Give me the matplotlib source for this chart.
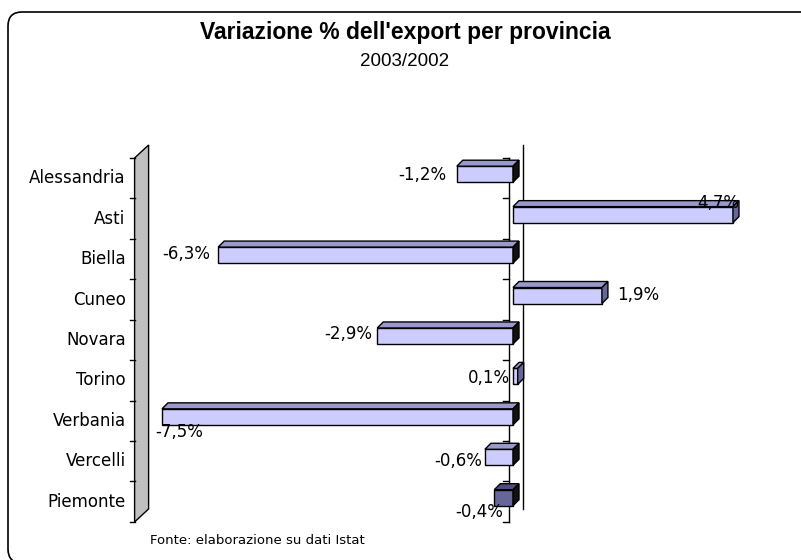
import matplotlib.pyplot as plt
from matplotlib.patches import Polygon, FancyBboxPatch
from matplotlib.transforms import IdentityTransform

provinces = ['Alessandria', 'Asti', 'Biella', 'Cuneo', 'Novara',
             'Torino', 'Verbania', 'Vercelli', 'Piemonte']
variation = [-1.2, 4.7, -6.3, 1.9, -2.9, 0.1, -7.5, -0.6, -0.4]
value_labels = ['-1,2%', '4,7%', '-6,3%', '1,9%', '-2,9%',
                '0,1%', '-7,5%', '-0,6%', '-0,4%']
axis_min = -8

# where each value label sits relative to the bar end (ha, dx px, dy px down)
label_place = [('right', -10, 1), ('center', -15, -12), ('right', -8, -1),
               ('left', 15, -1), ('right', -5, -2), ('right', -8, 2),
               ('left', -7, 15), ('right', -3, 4), ('right', 9, 14)]

W, H = 801, 560
fig = plt.figure(figsize=(W / 100, H / 100), dpi=100)

# plot area in pixels and pixel scale of the axes
L, R, T, B = 125, 770, 140, 530
px_x = 46.8    # px per percentage point
px_y = 40.44   # px per category
x0, y0 = 509, 178.2
ax = fig.add_axes([L / W, 1 - B / H, (R - L) / W, (B - T) / H])
ax.set_xlim((L - x0) / px_x, (R - x0) / px_x)
ax.set_ylim((B - y0) / px_y, (T - y0) / px_y)
ax.axis('off')


def dx(p):
    return p / px_x


def dy(p):
    # p pixels upwards
    return -p / px_y


n = len(provinces)
top, bot = -0.5, n - 0.5
depth = 14

# left side wall
wall = Polygon([(axis_min, top), (axis_min + dx(depth), top + dy(13)),
                (axis_min + dx(depth), bot + dy(13)), (axis_min, bot)],
               closed=True, facecolor='#c0c0c0', edgecolor='black', lw=1)
ax.add_patch(wall)
for k in range(n + 1):
    ax.plot([axis_min - dx(5), axis_min], [k - 0.5, k - 0.5], color='black', lw=1)
    ax.plot([-dx(6), 0], [k - 0.5, k - 0.5], color='black', lw=1)

# zero lines, front and back
ax.plot([0, 0], [top, bot], color='black', lw=1, zorder=1)
ax.plot([dx(depth), dx(depth)], [top + dy(13), bot + dy(13)], color='black', lw=1, zorder=1)

bar_h = 16 / px_y
for i, v in enumerate(variation):
    last = i == n - 1
    front = '#666699' if last else '#ccccff'
    topc = '#4d4d80' if last else '#9999cc'
    side = '#111111' if (v < 0 or last) else '#666699'
    yc = i + dy(4)
    xs = dx(4)
    ax.barh(yc, v, left=xs, height=bar_h, color=front, edgecolor='black', lw=1, zorder=3)
    xa, xb = min(xs, xs + v), max(xs, xs + v)
    yt, yb = yc - bar_h / 2, yc + bar_h / 2
    ax.add_patch(Polygon([(xa, yt), (xb, yt), (xb + dx(6), yt + dy(6)), (xa + dx(6), yt + dy(6))],
                         closed=True, facecolor=topc, edgecolor='black', lw=1, zorder=3))
    ax.add_patch(Polygon([(xb, yt), (xb + dx(6), yt + dy(6)), (xb + dx(6), yb + dy(6)), (xb, yb)],
                         closed=True, facecolor=side, edgecolor='black', lw=1, zorder=3))
    ha, ox, oy = label_place[i]
    ax.annotate(value_labels[i], xy=(xs + v, yc), xytext=(ox, -oy),
                textcoords='offset pixels', ha=ha, va='center',
                fontsize=12, family='DejaVu Sans', zorder=5)
    ax.text(axis_min - dx(9), i, provinces[i], ha='right', va='center',
            fontsize=12, family='DejaVu Sans')

fig.text(405 / W, 1 - 32 / H, "Variazione % dell'export per provincia",
         ha='center', va='center', fontsize=16.5, fontweight='bold', family='Liberation Sans')
fig.text(405 / W, 1 - 62 / H, '2003/2002', ha='center', va='center',
         fontsize=13.5, family='Liberation Sans')
fig.text(150 / W, 1 - 540 / H, 'Fonte: elaborazione su dati Istat', ha='left', va='center',
         fontsize=9.5, family='DejaVu Sans')

# chart frame, its right and bottom edges fall just outside the picture
border = FancyBboxPatch((8, -3), 808, H - 12 + 3, boxstyle='round,pad=0,rounding_size=14',
                        transform=IdentityTransform(), facecolor='none',
                        edgecolor='black', lw=1.2)
fig.patches.append(border)

fig.savefig('out.png', dpi=100)
